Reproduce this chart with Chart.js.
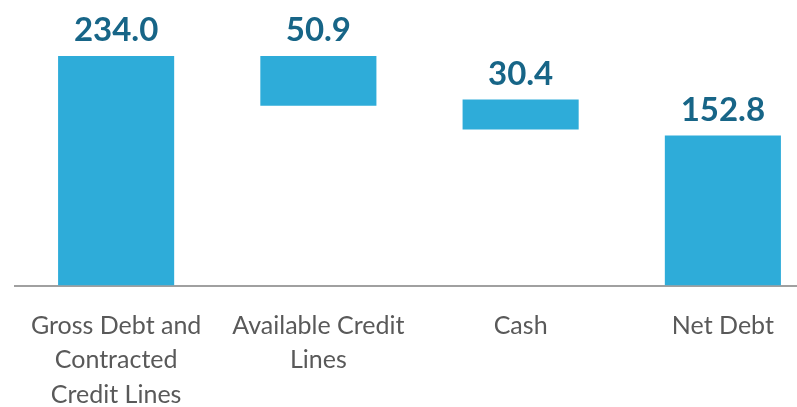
<!DOCTYPE html>
<html lang="en">
<head>
<meta charset="UTF-8">
<meta name="viewport" content="width=device-width, initial-scale=1.0">
<title>Net Debt</title>
<script src="https://cdn.jsdelivr.net/npm/chart.js"></script>
<style>
    html, body { margin: 0; padding: 0; background: #fff; overflow: hidden; }
    #debtChart { display: block; }
</style>
</head>
<body>
<canvas id="debtChart" width="824" height="435"></canvas>
<script>
    const categories = [
        ['Gross Debt and', 'Contracted', 'Credit Lines'],
        ['Available Credit', 'Lines'],
        'Cash',
        'Net Debt'
    ];
    const values = [234.0, 50.9, 30.4, 152.8];
    // start of each bar in the waterfall
    const bases = [0, 183.1, 159.1, 0];

    const barColor = '#2eacd9';
    const valueColor = '#176587';
    const labelColor = '#595959';

    let floating = [];
    for (let i = 0; i < values.length; i++) {
        floating.push([bases[i], bases[i] + values[i]]);
    }

    // writes the value above each bar
    const valueLabels = {
        id: 'valueLabels',
        afterDatasetsDraw(chart) {
            const ctx = chart.ctx;
            const meta = chart.getDatasetMeta(0);
            ctx.save();
            ctx.font = 'bold 33px Lato';
            ctx.fillStyle = valueColor;
            ctx.textAlign = 'center';
            ctx.textBaseline = 'alphabetic';
            meta.data.forEach(function (bar, i) {
                const top = Math.min(bar.y, bar.base);
                ctx.fillText(values[i].toFixed(1), bar.x, top - 15);
            });
            ctx.restore();
        }
    };

    const config = {
        type: 'bar',
        data: {
            labels: categories,
            datasets: [{
                data: floating,
                backgroundColor: barColor,
                borderWidth: 0,
                categoryPercentage: 1,
                barPercentage: 0.574
            }]
        },
        options: {
            responsive: false,
            animation: false,
            layout: {
                padding: { top: 40.2, left: 15, right: 0, bottom: 0 }
            },
            plugins: {
                legend: { display: false },
                tooltip: { enabled: false }
            },
            scales: {
                y: {
                    display: false,
                    min: 0,
                    max: 250
                },
                x: {
                    grid: { display: false, drawTicks: false },
                    border: { display: true, color: '#a0a0a0', width: 2 },
                    ticks: {
                        color: labelColor,
                        padding: 23,
                        maxRotation: 0,
                        autoSkip: false,
                        font: { family: 'Lato', size: 25, lineHeight: 1.38 }
                    }
                }
            }
        },
        plugins: [valueLabels]
    };

    new Chart(document.getElementById('debtChart'), config);
</script>
</body>
</html>
